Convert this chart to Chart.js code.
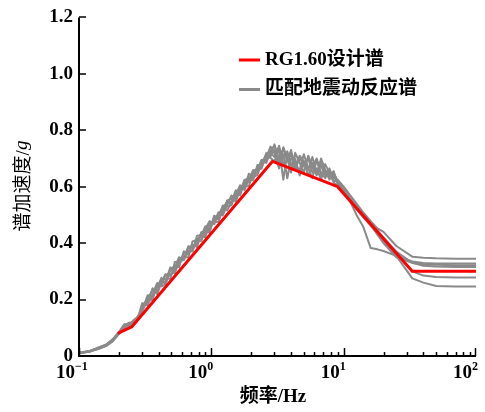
<!DOCTYPE html>
<html>
<head>
<meta charset="utf-8">
<script src="https://cdn.jsdelivr.net/npm/chart.js@4.4.1/dist/chart.umd.min.js"></script>
<style>
  html, body { margin: 0; padding: 0; background: #fff; }
  #wrap { width: 485px; height: 412px; }
</style>
</head>
<body>
<div id="wrap"><canvas id="spectrumChart" width="485" height="412"></canvas></div>
<script>
// frequency grid of the matched spectra (Hz)
const freq = [0.1, 0.12, 0.14, 0.16, 0.18, 0.2, 0.22, 0.24, 0.26, 0.28,
    0.3, 0.33, 0.36, 0.39, 0.42, 0.45, 0.49, 0.53, 0.57, 0.62,
    0.67, 0.72, 0.78, 0.84, 0.9, 0.97, 1.05, 1.13, 1.22, 1.32,
    1.42, 1.53, 1.65, 1.78, 1.92, 2.07, 2.23, 2.4, 2.6, 2.8,
    3.0, 3.25, 3.5, 3.75, 4.0, 4.3, 4.65, 5.0, 5.4, 5.8,
    6.25, 6.75, 7.25, 7.8, 8.4, 9.0,
    10, 11, 12.5, 14, 16, 18, 20, 25, 33, 40, 50, 70, 100];

// RG1.60 design spectrum
const designFreq = [0.2, 0.25, 2.9, 9, 33, 100];
const designVals = [0.082, 0.103, 0.69, 0.60, 0.30, 0.30];

// matched ground motion response spectra
const gray1 = [0.012, 0.018, 0.028, 0.040, 0.060, 0.085, 0.112, 0.115, 0.122, 0.140,
    0.167, 0.205, 0.205, 0.249, 0.252, 0.289, 0.284, 0.313, 0.350, 0.341,
    0.374, 0.371, 0.416, 0.423, 0.460, 0.448, 0.487, 0.489, 0.533, 0.531,
    0.534, 0.582, 0.585, 0.623, 0.616, 0.649, 0.647, 0.695, 0.694, 0.727,
    0.745, 0.700, 0.735, 0.690, 0.715, 0.665, 0.700, 0.680, 0.660, 0.705,
    0.650, 0.675, 0.640, 0.660, 0.630, 0.625,
    0.600, 0.575, 0.540, 0.510, 0.478, 0.452, 0.440, 0.390, 0.352, 0.348, 0.346, 0.345, 0.345];
const gray2 = [0.010, 0.016, 0.026, 0.036, 0.052, 0.078, 0.100, 0.108, 0.115, 0.138,
    0.187, 0.180, 0.220, 0.259, 0.247, 0.254, 0.309, 0.318, 0.315, 0.371,
    0.359, 0.396, 0.386, 0.438, 0.445, 0.443, 0.497, 0.484, 0.513, 0.551,
    0.559, 0.547, 0.590, 0.593, 0.646, 0.634, 0.642, 0.685, 0.714, 0.702,
    0.690, 0.735, 0.625, 0.720, 0.675, 0.700, 0.640, 0.690, 0.665, 0.630,
    0.695, 0.640, 0.660, 0.625, 0.640, 0.615,
    0.590, 0.560, 0.530, 0.500, 0.470, 0.430, 0.400, 0.350, 0.330, 0.325, 0.323, 0.322, 0.322];
const gray3 = [0.011, 0.017, 0.030, 0.040, 0.058, 0.082, 0.108, 0.118, 0.120, 0.132,
    0.157, 0.200, 0.235, 0.229, 0.267, 0.274, 0.274, 0.333, 0.335, 0.341,
    0.384, 0.381, 0.406, 0.408, 0.450, 0.478, 0.467, 0.499, 0.528, 0.516,
    0.549, 0.587, 0.575, 0.613, 0.621, 0.624, 0.677, 0.670, 0.704, 0.742,
    0.720, 0.665, 0.740, 0.700, 0.650, 0.720, 0.685, 0.650, 0.710, 0.670,
    0.640, 0.690, 0.655, 0.635, 0.650, 0.620,
    0.595, 0.565, 0.535, 0.505, 0.465, 0.445, 0.420, 0.370, 0.330, 0.320, 0.317, 0.315, 0.315];
const gray4 = [0.011, 0.017, 0.029, 0.039, 0.057, 0.079, 0.110, 0.112, 0.128, 0.136,
    0.177, 0.190, 0.240, 0.219, 0.262, 0.289, 0.289, 0.298, 0.340, 0.351,
    0.349, 0.406, 0.411, 0.413, 0.435, 0.473, 0.477, 0.474, 0.523, 0.546,
    0.539, 0.572, 0.605, 0.588, 0.626, 0.659, 0.657, 0.665, 0.719, 0.717,
    0.750, 0.690, 0.705, 0.725, 0.680, 0.660, 0.710, 0.690, 0.640, 0.670,
    0.700, 0.650, 0.630, 0.665, 0.620, 0.620,
    0.590, 0.555, 0.500, 0.460, 0.383, 0.378, 0.372, 0.355, 0.335, 0.330, 0.328, 0.328, 0.328];
const gray5 = [0.010, 0.015, 0.027, 0.037, 0.056, 0.080, 0.112, 0.105, 0.125, 0.142,
    0.162, 0.215, 0.210, 0.244, 0.277, 0.254, 0.304, 0.313, 0.320, 0.366,
    0.369, 0.371, 0.426, 0.428, 0.420, 0.468, 0.472, 0.509, 0.498, 0.536,
    0.569, 0.557, 0.595, 0.603, 0.601, 0.654, 0.662, 0.695, 0.684, 0.722,
    0.705, 0.745, 0.680, 0.690, 0.730, 0.670, 0.660, 0.715, 0.665, 0.685,
    0.645, 0.700, 0.660, 0.640, 0.655, 0.610,
    0.585, 0.560, 0.528, 0.500, 0.468, 0.438, 0.412, 0.360, 0.300, 0.285, 0.280, 0.278, 0.278];
const gray6 = [0.012, 0.016, 0.025, 0.035, 0.054, 0.084, 0.098, 0.118, 0.112, 0.130,
    0.182, 0.195, 0.200, 0.254, 0.257, 0.264, 0.314, 0.293, 0.340, 0.346,
    0.389, 0.386, 0.396, 0.438, 0.440, 0.438, 0.492, 0.499, 0.503, 0.551,
    0.544, 0.577, 0.570, 0.623, 0.631, 0.629, 0.672, 0.675, 0.699, 0.707,
    0.730, 0.680, 0.715, 0.630, 0.700, 0.690, 0.645, 0.680, 0.700, 0.650,
    0.665, 0.625, 0.680, 0.650, 0.615, 0.605,
    0.578, 0.552, 0.520, 0.492, 0.462, 0.432, 0.405, 0.355, 0.275, 0.260, 0.248, 0.246, 0.246];

const seriesLabels = ["RG1.60设计谱", "匹配地震动反应谱"];
const xTicks = [0.1, 1, 10, 100];
const yTicks = [0, 0.2, 0.4, 0.6, 0.8, 1.0, 1.2];

const SERIF = "'Liberation Serif', 'Times New Roman', 'Noto Sans CJK SC', serif";
const RED = "#ff0000";
const GRAY = "#8a8a8a";

const grayRuns = [gray1, gray2, gray3, gray4, gray5, gray6];

const datasets = [{
    label: seriesLabels[0],
    data: designFreq.map((f, i) => ({ x: f, y: designVals[i] })),
    borderColor: RED,
    borderWidth: 3
}];
grayRuns.forEach((run, k) => {
    datasets.push({
        label: k === 0 ? seriesLabels[1] : "",
        data: freq.map((f, i) => ({ x: f, y: run[i] })),
        borderColor: GRAY,
        borderWidth: 2
    });
});

// ticks inside, axis lines, x labels with exponents, titles and legend
const decorPlugin = {
    id: "decor",
    afterDraw(chart) {
        const ctx = chart.ctx;
        const xs = chart.scales.x;
        const ys = chart.scales.y;
        const area = chart.chartArea;
        ctx.save();
        ctx.strokeStyle = "#000";
        ctx.fillStyle = "#000";
        ctx.lineWidth = 2;
        ctx.beginPath();
        ctx.moveTo(area.left, ys.getPixelForValue(1.2));
        ctx.lineTo(area.left, area.bottom);
        ctx.lineTo(area.right, area.bottom);
        ctx.stroke();

        ctx.lineWidth = 1.5;
        ctx.beginPath();
        yTicks.forEach(v => {
            const y = Math.round(ys.getPixelForValue(v));
            ctx.moveTo(area.left, y);
            ctx.lineTo(area.left + 7, y);
        });
        for (let d = 0.1; d < 100; d *= 10) {
            for (let m = 1; m < 10; m++) {
                const x = Math.round(xs.getPixelForValue(d * m)) + 0.5;
                const len = m === 1 ? 8 : 4;
                ctx.moveTo(x, area.bottom);
                ctx.lineTo(x, area.bottom - len);
            }
        }
        const xEnd = Math.round(xs.getPixelForValue(100)) - 0.5;
        ctx.moveTo(xEnd, area.bottom);
        ctx.lineTo(xEnd, area.bottom - 8);
        ctx.stroke();

        // x tick labels 10^n
        ctx.textBaseline = "alphabetic";
        xTicks.forEach(v => {
            const p = xs.getPixelForValue(v);
            const exp = String(Math.round(Math.log10(v))).replace("-", "\u2212");
            ctx.font = "bold 19px " + SERIF;
            const wBase = ctx.measureText("10").width;
            ctx.font = "bold 12px " + SERIF;
            const wExp = ctx.measureText(exp).width;
            let right = p - 4;
            if (right + wExp > 480) right = 480 - wExp;
            ctx.font = "bold 19px " + SERIF;
            ctx.textAlign = "left";
            ctx.fillText("10", right - wBase, 378);
            ctx.font = "bold 12px " + SERIF;
            ctx.fillText(exp, right, 370);
        });

        // x title
        ctx.font = "bold 19px " + SERIF;
        ctx.textAlign = "center";
        ctx.textBaseline = "middle";
        ctx.fillText("频率/Hz", 273, 397);

        // y title
        ctx.translate(24, 186);
        ctx.rotate(-Math.PI / 2);
        ctx.font = "19px " + SERIF;
        const t1 = "谱加速度/";
        const w1 = ctx.measureText(t1).width;
        ctx.font = "italic 19px " + SERIF;
        const w2 = ctx.measureText("g").width;
        const start = -(w1 + w2) / 2;
        ctx.textAlign = "left";
        ctx.font = "19px " + SERIF;
        ctx.fillText(t1, start, 0);
        ctx.font = "italic 19px " + SERIF;
        ctx.fillText("g", start + w1, -2);
        ctx.restore();

        // legend
        ctx.save();
        const items = chart.data.datasets.filter(ds => ds.label);
        items.forEach((ds, i) => {
            const y = 60 + i * 29.5;
            ctx.strokeStyle = ds.borderColor;
            ctx.lineWidth = 3;
            ctx.beginPath();
            ctx.moveTo(239, y);
            ctx.lineTo(260, y);
            ctx.stroke();
            ctx.fillStyle = "#000";
            ctx.font = "bold 19px " + SERIF;
            ctx.textAlign = "left";
            ctx.textBaseline = "middle";
            ctx.fillText(ds.label, 265, y);
        });
        ctx.restore();
    }
};

new Chart(document.getElementById("spectrumChart"), {
    type: "line",
    data: { datasets },
    options: {
        responsive: false,
        animation: false,
        layout: { padding: { top: 14, right: 9, left: 0, bottom: 0 } },
        elements: {
            point: { radius: 0 },
            line: { tension: 0, borderCapStyle: "round", borderJoinStyle: "round" }
        },
        plugins: {
            legend: { display: false },
            tooltip: { enabled: false }
        },
        scales: {
            x: {
                type: "logarithmic",
                min: 0.1,
                max: 100,
                grid: { display: false, drawTicks: false },
                border: { display: false },
                afterBuildTicks: scale => { scale.ticks = xTicks.map(v => ({ value: v })); },
                ticks: { callback: () => "" },
                afterFit: scale => { scale.height = 56; }
            },
            y: {
                min: 0,
                max: 1.2,
                grid: { display: false, drawTicks: false },
                border: { display: false },
                afterBuildTicks: scale => { scale.ticks = yTicks.map(v => ({ value: v })); },
                ticks: {
                    padding: 6,
                    color: "#000",
                    font: { family: SERIF, size: 19, weight: "bold" },
                    callback: v => (v === 0 ? "0" : v.toFixed(1))
                },
                afterFit: scale => { scale.width = 79; }
            }
        }
    },
    plugins: [decorPlugin]
});
</script>
</body>
</html>
